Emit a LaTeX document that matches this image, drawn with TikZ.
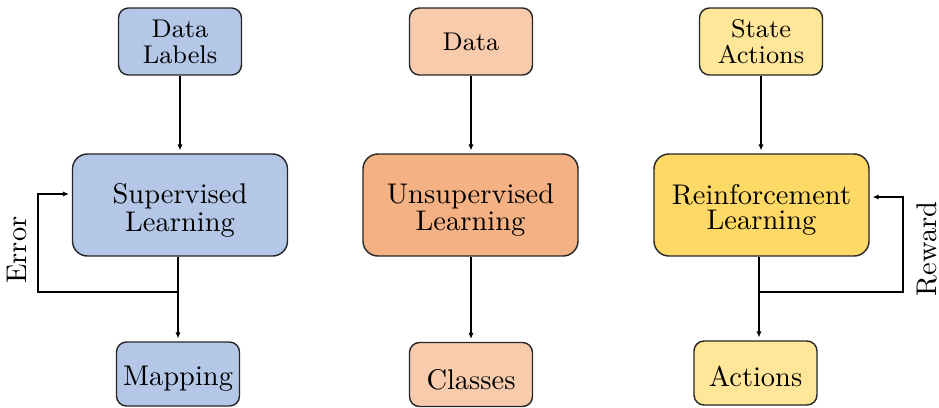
\documentclass[tikz,border=0pt]{standalone}
\usetikzlibrary{arrows.meta}

% one drawing unit
\newcommand\px{0.3513pt}

\definecolor{blueA}{HTML}{B4C7E7}
\definecolor{peachA}{HTML}{F8CBAD}
\definecolor{peachB}{HTML}{F4B183}
\definecolor{yellowA}{HTML}{FFE699}
\definecolor{yellowB}{HTML}{FFD966}

\tikzset{
  box/.style={draw=black!85, line width=0.5pt, align=center, inner sep=0pt},
  inbox/.style={box, rounded corners=10*\px, minimum width=123*\px, minimum height=67*\px,
                font=\fontsize{9}{9.2}\selectfont},
  corebox/.style={box, rounded corners=15*\px, minimum width=215*\px, minimum height=102*\px},
  outbox/.style={box, rounded corners=10*\px, minimum width=123*\px, minimum height=64*\px},
  % captions of the learning and result boxes sit a little below the centre
  boxtext/.style={align=center, inner sep=0pt, yshift=-5*\px,
                  font=\fontsize{10}{8.7}\selectfont},
  arr/.style={draw=black, line width=0.4pt, -{Latex[length=2.1pt,width=1.8pt]}, shorten >=1pt},
  sidelabel/.style={rotate=90, inner sep=0pt, font=\fontsize{10}{12}\selectfont}
}

\begin{document}
\begin{tikzpicture}[x=\px, y=-\px]
  \useasboundingbox (0,0) rectangle (939,407);

  % supervised column
  \node[inbox, fill=blueA] (dl) at (180,41.5) {Data\\Labels};
  \node[corebox, fill=blueA,
        label={[boxtext, name=slt]center:Supervised\\Learning}] (sl) at (180,205) {};
  \node[outbox, fill=blueA,
        label={[boxtext, name=mapt]center:Mapping}] (map) at (178,374) {};

  % unsupervised column
  \node[inbox, fill=peachA] (d) at (471,41.5) {Data};
  \node[corebox, fill=peachB,
        label={[boxtext, name=ult]center:Unsupervised\\Learning}] (ul) at (470.5,205) {};
  \node[outbox, fill=peachA,
        label={[boxtext, name=clt]center:Classes}] (cl) at (471,374.5) {};

  % reinforcement column
  \node[inbox, fill=yellowA] (sa) at (761,41.5) {State\\Actions};
  \node[corebox, fill=yellowB,
        label={[boxtext, name=rlt]center:Reinforcement\\Learning}] (rl) at (761.5,205) {};
  \node[outbox, fill=yellowA,
        label={[boxtext, name=act, yshift=2*\px]center:Actions}] (ac) at (755.5,373) {};

  % feedback labels
  \node[sidelabel] (err) at (17,250)  {Error};
  \node[sidelabel] (rew) at (927,249) {Reward};

  % inputs
  \draw[arr] (dl.south) -- (dl.south |- sl.north);
  \draw[arr] (d.south)  -- (d.south |- ul.north);
  \draw[arr] (sa.south) -- (sa.south |- rl.north);

  % outputs
  \draw[arr] (sl.south -| map.north) -- (map.north);
  \draw[arr] (ul.south -| cl.north)  -- (cl.north);
  \coordinate (rj) at (759,292);
  \draw[arr] (rl.south -| rj) -- (rj |- ac.north);

  % error feedback loop
  \coordinate (ej) at (178,292);
  \coordinate (ec) at (38,292);
  \draw[arr] (ej) -- (ec) |- (sl.west |- 0,194);

  % reward feedback loop
  \coordinate (rc) at (903,292);
  \draw[arr] (rj) -- (rc) |- (rl.east |- 0,197);
\end{tikzpicture}
\end{document}
